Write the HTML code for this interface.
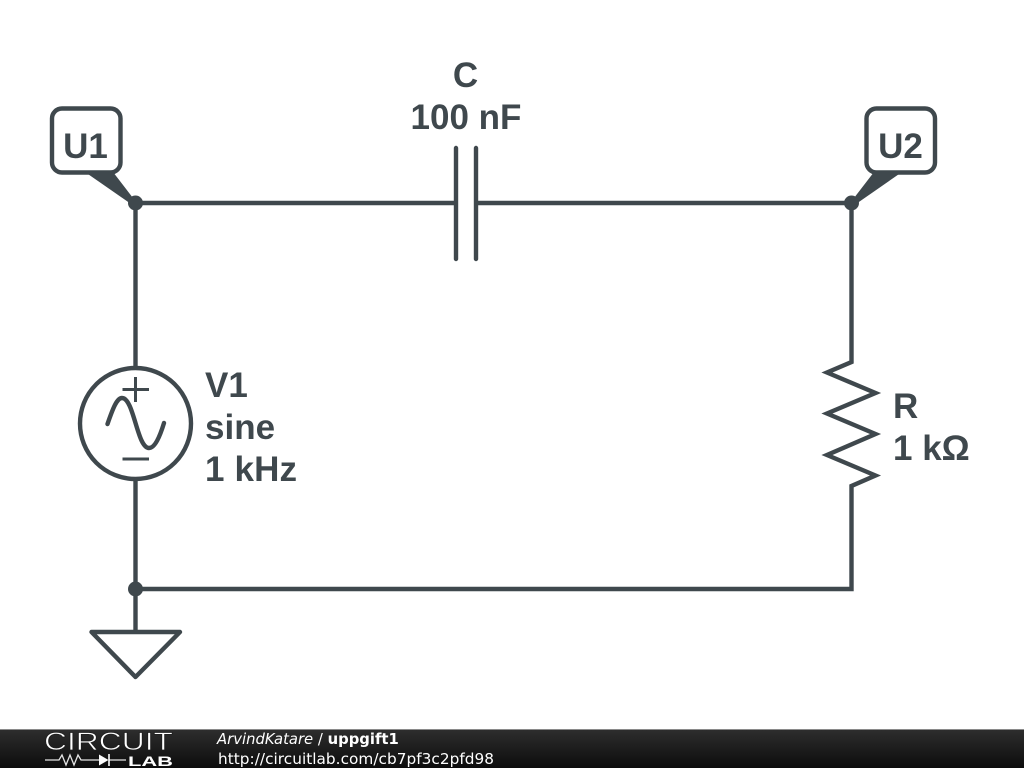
<!DOCTYPE html>
<html><head><meta charset="utf-8"><style>
html,body{margin:0;padding:0;background:#fff}
svg{display:block}
.l{font-family:"Liberation Sans",sans-serif;font-weight:700;font-size:35px;fill:#3f484d}
.f{font-family:"DejaVu Sans",sans-serif;font-size:14.8px;fill:#fff}
</style></head><body>
<svg width="1024" height="768" viewBox="0 0 1024 768" xmlns="http://www.w3.org/2000/svg">
<defs><linearGradient id="g" x1="0" y1="0" x2="0" y2="1"><stop offset="0" stop-color="#2e2e2e"/><stop offset="1" stop-color="#0c0c0c"/></linearGradient></defs>
<rect width="1024" height="768" fill="#fff"/>
<g fill="none" stroke="#3f484d" stroke-width="4.4" stroke-linecap="round" stroke-linejoin="round">
<path d="M135.5 203H456M476 203H851.5V362L827 372.500L875.500 393L827 413.500L875.500 434L827 455L875.500 475.500L851.500 486V589H135.500M135.500 203V368M135.500 479V632" stroke-linecap="butt" stroke-linejoin="miter"/>
<path d="M456 148V259M476 148V259"/>
<circle cx="135.500" cy="423.500" r="55.500"/>
<path d="M107.500 424C113 408 117 398 122 398C134 398 137 448 149 448C155 448 160 436 164 423"/>
<path d="M91.500 632H180L135.500 677Z"/>
<rect x="52" y="108.500" width="68.500" height="64" rx="10"/>
<rect x="866.500" y="108.500" width="68.500" height="64" rx="10"/>
</g>
<path d="M135.500 377V402M122.500 389.500H149M122.500 459H149" fill="none" stroke="#3f484d" stroke-width="3"/>
<path d="M85 172H113L133 198L131 204Z" fill="#3f484d"/>
<path d="M902 172H874L854 198L856 204Z" fill="#3f484d"/>
<g fill="#3f484d"><circle cx="135.500" cy="203" r="7.500"/><circle cx="851.500" cy="203" r="7.500"/><circle cx="135.500" cy="589" r="7.500"/></g>
<text class="l" x="465.500" y="87" text-anchor="middle">C</text>
<text class="l" x="466" y="129" text-anchor="middle">100 nF</text>
<text class="l" x="85.500" y="158" text-anchor="middle">U1</text>
<text class="l" x="900.500" y="158" text-anchor="middle">U2</text>
<text class="l" x="205" y="397">V1</text>
<text class="l" x="205" y="439">sine</text>
<text class="l" x="205" y="481" textLength="92">1 kHz</text>
<text class="l" x="893" y="418">R</text>
<text class="l" x="893" y="460">1 kΩ</text>
<rect y="729" width="1024" height="39" fill="url(#g)"/>
<rect y="729" width="1024" height="1" fill="#8a8a8a"/>
<text x="44" y="750" font-family="Liberation Sans, sans-serif" font-size="25" fill="#fff" stroke="#1e1e1e" stroke-width="0.700" paint-order="fill" textLength="129" lengthAdjust="spacingAndGlyphs">CIRCUIT</text>
<path d="M45 760H59L62 755L66 765L70 755L74 765L78 755L81 760H99M109 760H126" fill="none" stroke="#e4e4e4" stroke-width="1.300"/>
<path d="M99 754.500V765.500L108.500 760Z" fill="#fff"/><path d="M109 754V766" stroke="#fff" stroke-width="1.600"/>
<text x="128" y="766" font-family="Liberation Sans, sans-serif" font-weight="700" font-size="14" fill="#fff" textLength="45" lengthAdjust="spacingAndGlyphs">LAB</text>
<text class="f" x="217" y="744"><tspan font-style="italic">ArvindKatare</tspan> / <tspan font-weight="700">uppgift1</tspan></text>
<text class="f" x="218" y="764" style="font-size:15.300px" textLength="276">http://circuitlab.com/cb7pf3c2pfd98</text>
</svg>
</body></html>
